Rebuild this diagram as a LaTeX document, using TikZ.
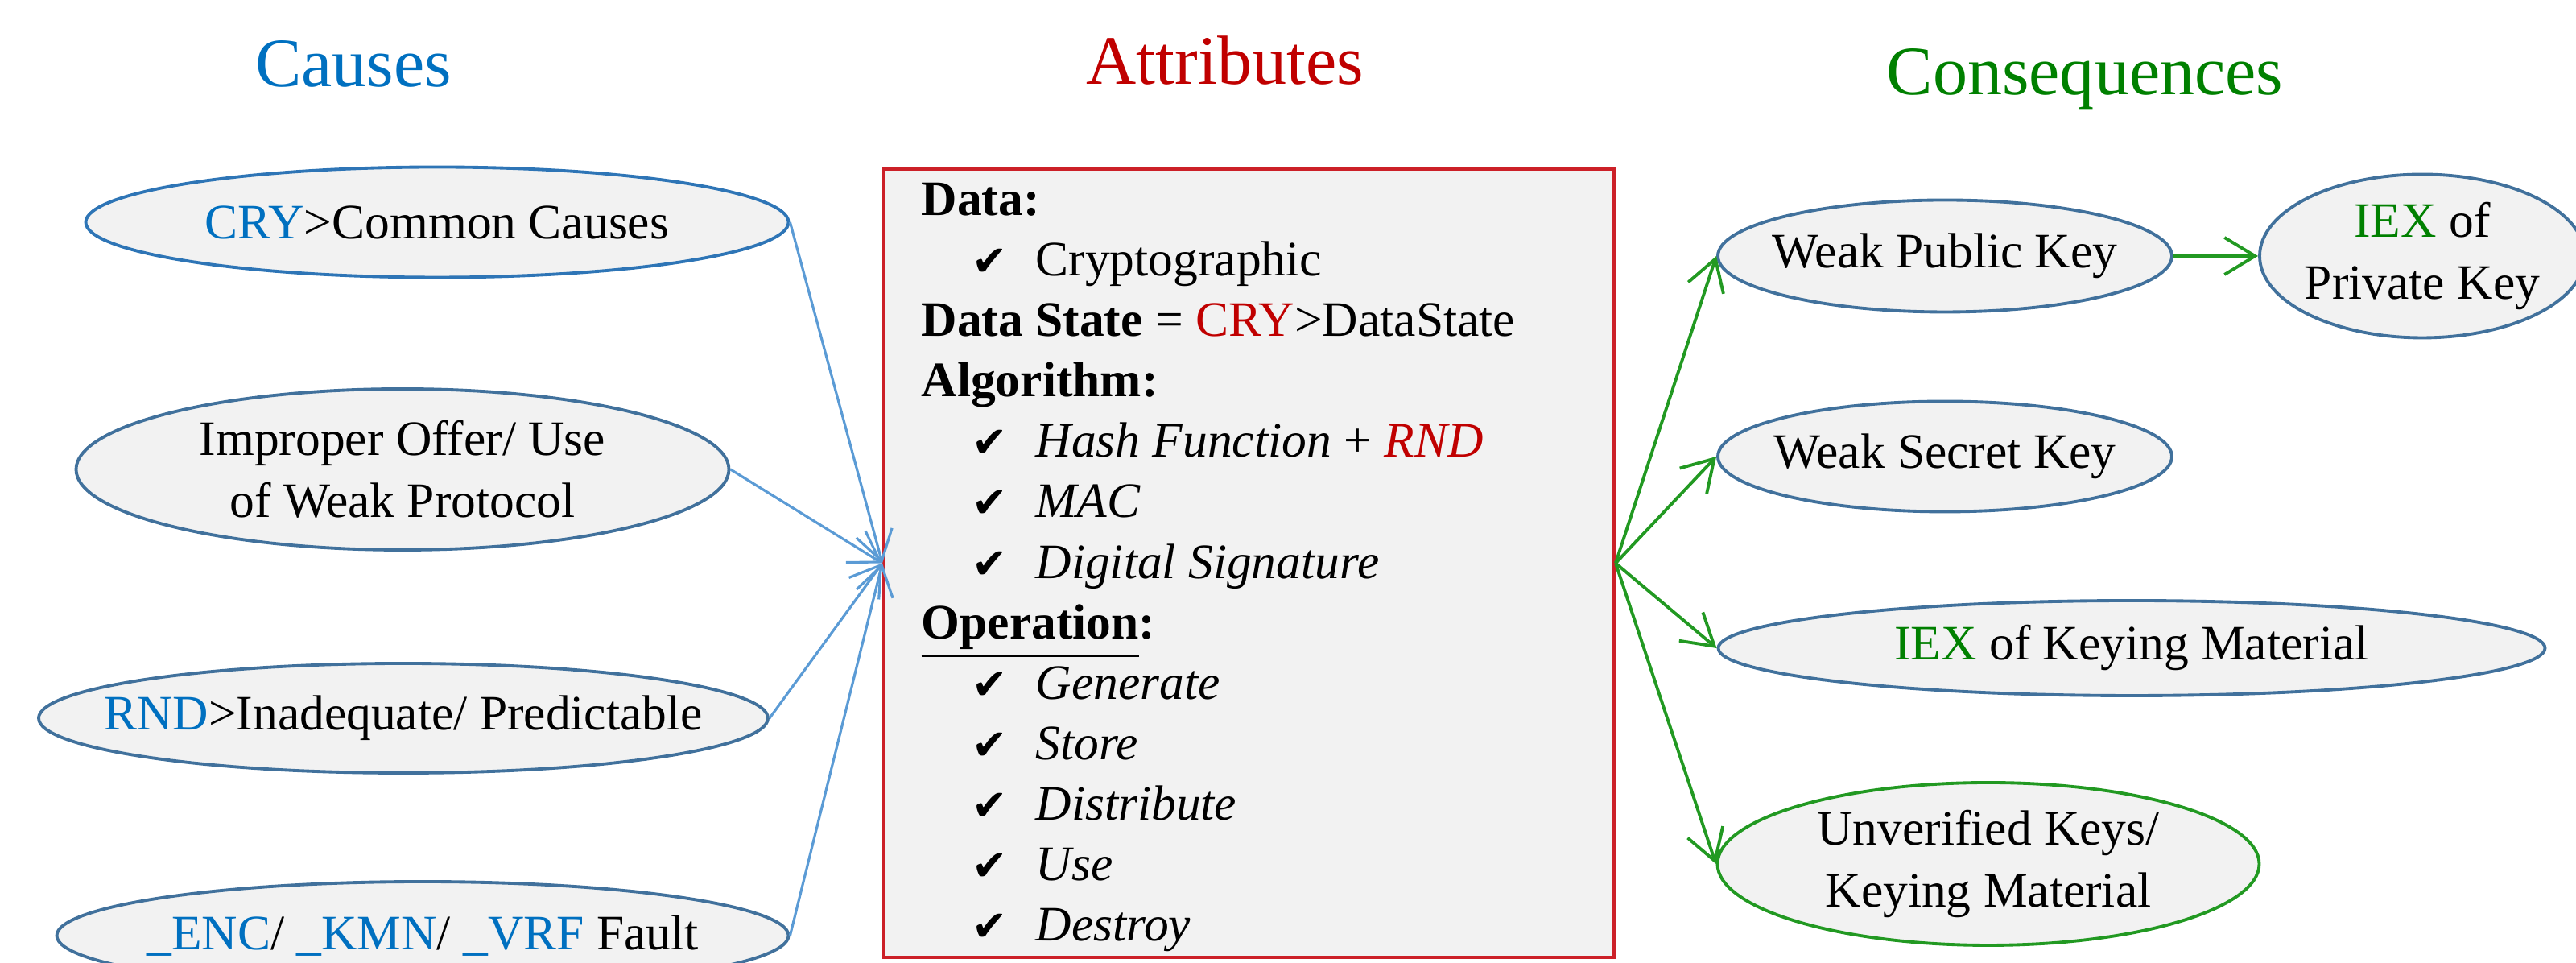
\documentclass[tikz,border=0pt]{standalone}
\usepackage{amssymb}
\usepackage{fontspec}
\setmainfont{Liberation Serif}
\newfontfamily\symfont{DejaVu Sans}
\usetikzlibrary{shapes.geometric,arrows.meta}

\definecolor{cblue}{RGB}{0,112,192}
\definecolor{cred}{RGB}{192,0,0}
\definecolor{cgreen}{RGB}{0,128,0}
\definecolor{eblue}{RGB}{65,113,156}
\definecolor{cryblue}{RGB}{46,117,182}
\definecolor{lblue}{RGB}{91,155,213}
\definecolor{lgreen}{RGB}{34,153,34}
\definecolor{bred}{RGB}{204,32,40}
\definecolor{efill}{RGB}{242,242,242}

\newcommand{\chkmark}{\makebox[0.79cm][l]{{\symfont\fontsize{15}{15}\selectfont ✔}}}

\begin{document}
\begin{tikzpicture}[font=\fontsize{17.5}{22}\selectfont,
  ell/.style={ellipse, draw=eblue, line width=1.1pt, fill=efill, inner sep=0pt},
  ttl/.style={font=\fontsize{24.5}{30}\selectfont, anchor=base},
  row/.style={anchor=base west, inner sep=0pt},
  barrow/.style={draw=lblue, line width=0.9pt, -{Straight Barb[length=3.6mm,width=4.6mm]}},
  garrow/.style={draw=lgreen, line width=1.1pt, -{Straight Barb[length=3.8mm,width=4.6mm]}}]
\useasboundingbox (0,0) rectangle (32,11.96);
\clip (0,0) rectangle (32,11.96);

% column titles
\node[ttl, cblue] (tcause) at (4.39,10.88) {Causes};
\node[ttl, cred] (tattr) at (15.22,10.91) {Attributes};
\node[ttl, cgreen] (tcons) at (25.90,10.78) {Consequences};

% attributes box
\node[draw=bred, line width=1.1pt, fill=efill, minimum width=9.07cm, minimum height=9.79cm, inner sep=0pt] (attr) at (15.515,4.965) {};
\node[row] (r0) at (11.44,9.285) {\textbf{Data:}};
\node[row] (r1) at (12.07,8.534) {\chkmark Cryptographic};
\node[row] (r2) at (11.44,7.783) {\textbf{Data State} = {\color{cred}CRY}>DataState};
\node[row] (r3) at (11.44,7.032) {\textbf{Algorithm:}};
\node[row] (r4) at (12.07,6.281) {\chkmark\textit{Hash Function} + {\color{cred}\textit{RND}}};
\node[row] (r5) at (12.07,5.530) {\chkmark\textit{MAC}};
\node[row] (r6) at (12.07,4.779) {\chkmark\textit{Digital Signature}};
\node[row] (r7) at (11.44,4.028) {\textbf{\underline{Operation}:}};
\node[row] (r8) at (12.07,3.277) {\chkmark\textit{Generate}};
\node[row] (r9) at (12.07,2.526) {\chkmark\textit{Store}};
\node[row] (r10) at (12.07,1.775) {\chkmark\textit{Distribute}};
\node[row] (r11) at (12.07,1.024) {\chkmark\textit{Use}};
\node[row] (r12) at (12.07,0.273) {\chkmark\textit{Destroy}};

% causes
\node[ell, draw=cryblue, minimum width=8.73cm, minimum height=1.37cm, label={center:{\color{cblue}CRY}>Common Causes}] (cry) at (5.43,9.20) {};
\node[ell, minimum width=8.11cm, minimum height=2.0cm, label={[align=center]center:Improper Offer/ Use\\of Weak Protocol}] (proto) at (5.00,6.13) {};
\node[ell, minimum width=9.06cm, minimum height=1.36cm, label={center:{\color{cblue}RND}>Inadequate/ Predictable}] (rnd) at (5.01,3.04) {};
\node[ell, minimum width=9.09cm, minimum height=1.34cm, label={center:{\color{cblue}\_ENC}/ {\color{cblue}\_KMN}/ {\color{cblue}\_VRF} Fault}] (fault) at (5.25,0.34) {};

% consequences
\node[ell, minimum width=5.64cm, minimum height=1.39cm, label={center:Weak Public Key}] (pub) at (24.16,8.78) {};
\node[ell, minimum width=4.04cm, minimum height=2.03cm, label={[align=center]center:{\color{cgreen}IEX} of\\Private Key}] (priv) at (30.09,8.78) {};
\node[ell, minimum width=5.64cm, minimum height=1.37cm, label={center:Weak Secret Key}] (sec) at (24.16,6.29) {};
\node[ell, minimum width=10.27cm, minimum height=1.18cm, label={center:{\color{cgreen}IEX} of Keying Material}] (keying) at (26.48,3.91) {};
\node[ell, draw=lgreen, minimum width=6.73cm, minimum height=2.02cm, label={[align=center]center:Unverified Keys/\\Keying Material}] (unver) at (24.70,1.23) {};

% connectors
\draw[barrow] (cry.east) -- (attr.west);
\draw[barrow] (proto.east) -- (attr.west);
\draw[barrow] (rnd.east) -- (attr.west);
\draw[barrow] (fault.east) -- (attr.west);
\draw[garrow] (attr.east) -- (pub.west);
\draw[garrow] (attr.east) -- (sec.west);
\draw[garrow] (attr.east) -- (keying.west);
\draw[garrow] (attr.east) -- (unver.west);
\draw[garrow] (pub.east) -- (priv.west);
\end{tikzpicture}
\end{document}
